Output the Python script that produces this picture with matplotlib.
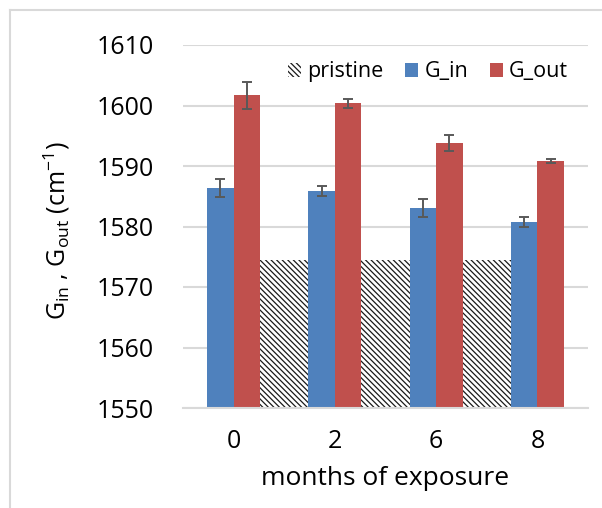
import matplotlib
matplotlib.use('Agg')
import matplotlib.pyplot as plt
import numpy as np
from matplotlib.patches import Patch
from matplotlib.lines import Line2D

plt.rcParams['font.family'] = ['Open Sans', 'DejaVu Sans']
plt.rcParams['hatch.linewidth'] = 0.9
plt.rcParams['hatch.color'] = '#1a1a1a'

# datos
months = ['0', '2', '6', '8']
g_in = [1586.4, 1585.9, 1583.1, 1580.8]
g_in_err = [1.5, 0.85, 1.45, 0.85]
g_out = [1601.7, 1600.4, 1593.8, 1590.8]
g_out_err = [2.2, 0.75, 1.3, 0.3]
pristine = 1574.4

fig = plt.figure(figsize=(6.02, 5.08), dpi=100)
ax = fig.add_axes([183/602, 1-408/508, (588-183)/602, (408-45)/508])

x = np.arange(len(months))
w = 0.262
rayado = '\\' * 6

# pristine como area detras de las barras
ax.fill_between(x, [pristine]*len(x), 1550, facecolor='white', edgecolor='#1a1a1a',
                hatch=rayado, linewidth=0, zorder=1)

ax.bar(x - w/2, g_in, w, color='#4F81BD', zorder=2)
ax.bar(x + w/2, g_out, w, color='#C0504D', zorder=2)
ax.errorbar(x - w/2, g_in, g_in_err, linestyle='', ecolor='#595959', elinewidth=1.4,
            capsize=3.3, capthick=1.4, zorder=3)
ax.errorbar(x + w/2, g_out, g_out_err, linestyle='', ecolor='#595959', elinewidth=1.4,
            capsize=3.3, capthick=1.4, zorder=3)

ax.set_ylim(1550, 1610)
ax.set_xlim(-0.5, 3.5)
ax.set_yticks(np.arange(1550, 1611, 10))
ax.set_xticks(x)
ax.set_xticklabels(months)
ax.tick_params(axis='both', length=0, labelsize=18)
ax.tick_params(axis='y', pad=21)
ax.tick_params(axis='x', pad=15)
ax.yaxis.grid(True, color='#D9D9D9', linewidth=1.5, zorder=0)
ax.set_axisbelow(True)
for s in ['top', 'right', 'left']:
    ax.spines[s].set_visible(False)
ax.spines['bottom'].set_color('#D9D9D9')
ax.spines['bottom'].set_linewidth(1.5)

ax.set_xlabel('months of exposure', fontsize=19, labelpad=9)
ax.set_ylabel(r'G$_{\mathregular{in}}$ , G$_{\mathregular{out}}$ (cm$^{\mathregular{-1}}$)',
              fontsize=18)
ax.yaxis.set_label_coords((72-183)/405, 0.49)

handles = [Patch(facecolor='white', edgecolor='#1a1a1a', hatch=rayado, linewidth=0),
           Patch(facecolor='#4F81BD'), Patch(facecolor='#C0504D')]
ax.legend(handles, ['pristine', 'G_in', 'G_out'], ncol=3, frameon=False, fontsize=15.5,
          handlelength=0.6, handleheight=0.6, handletextpad=0.3, columnspacing=1.0,
          loc='center', bbox_to_anchor=(428/602, 1-72/508), bbox_transform=fig.transFigure)

# marco del grafico
fig.add_artist(Line2D([10/602, 1], [1-10/508, 1-10/508], color='#D9D9D9', linewidth=1.5))
fig.add_artist(Line2D([10/602, 10/602], [0, 1-10/508], color='#D9D9D9', linewidth=1.5))

plt.savefig('out.png')
